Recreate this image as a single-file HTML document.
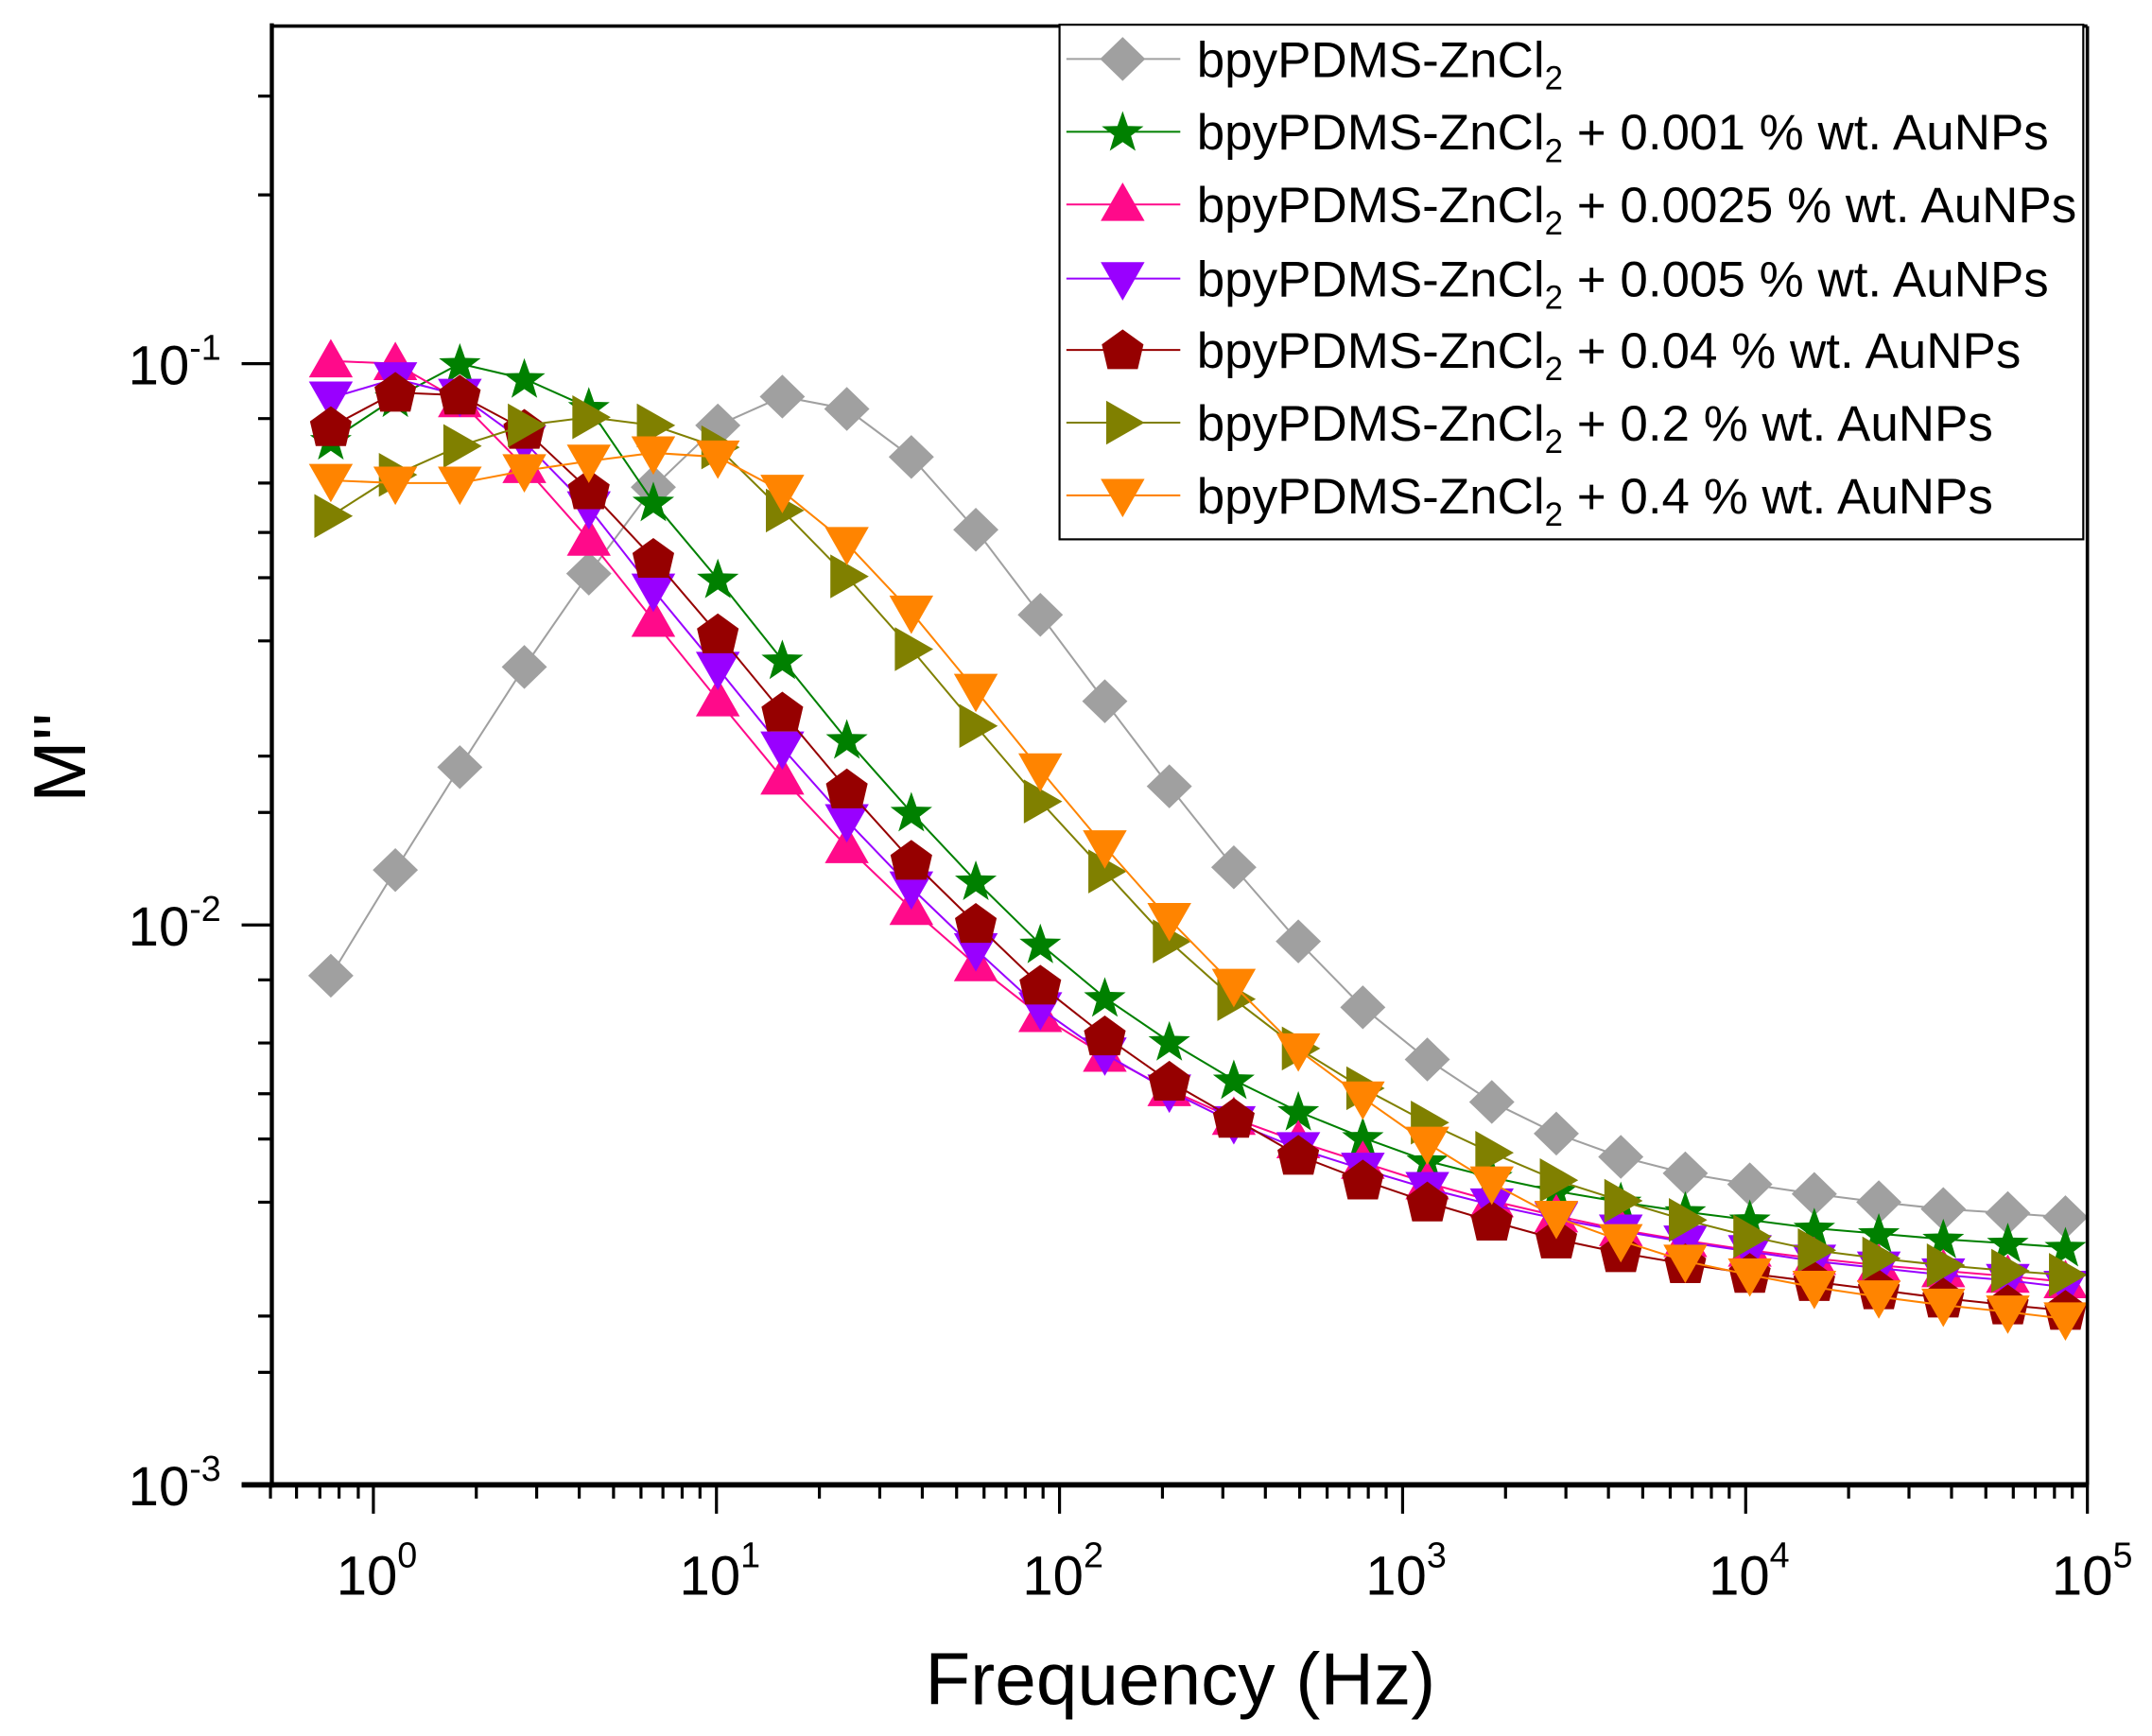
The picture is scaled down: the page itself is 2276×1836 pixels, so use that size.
<!DOCTYPE html>
<html><head><meta charset="utf-8"><style>html,body{margin:0;padding:0;background:#fff}svg{display:block}</style></head><body>
<svg width="2276" height="1836" viewBox="0 0 1568 1265" xmlns="http://www.w3.org/2000/svg" font-family="Liberation Sans, Arial, sans-serif">
<defs>
<marker id="mg" markerUnits="userSpaceOnUse" markerWidth="40" markerHeight="40" refX="20" refY="20" overflow="visible"><polygon transform="translate(20,20)" points="0,-16 16.5,0 0,16 -16.5,0" fill="#a0a0a0"/></marker>
<marker id="ms" markerUnits="userSpaceOnUse" markerWidth="40" markerHeight="40" refX="20" refY="20" overflow="visible"><polygon transform="translate(20,21)" points="0,-16 3.8,-5.2 15.2,-4.9 6.1,2 9.4,12.9 0,6.5 -9.4,12.9 -6.1,2 -15.2,-4.9 -3.8,-5.2" fill="#008000"/></marker>
<marker id="mu" markerUnits="userSpaceOnUse" markerWidth="40" markerHeight="40" refX="20" refY="20" overflow="visible"><polygon transform="translate(20,20)" points="0,-16 16,12 -16,12" fill="#ff0a8a"/></marker>
<marker id="md" markerUnits="userSpaceOnUse" markerWidth="40" markerHeight="40" refX="20" refY="20" overflow="visible"><polygon transform="translate(20,20)" points="-16,-12 16,-12 0,16" fill="#9900ff"/></marker>
<marker id="mp" markerUnits="userSpaceOnUse" markerWidth="40" markerHeight="40" refX="20" refY="20" overflow="visible"><polygon transform="translate(20,21)" points="0,-16 15.2,-5 11,13 -11,13 -15.2,-5" fill="#960000"/></marker>
<marker id="mr" markerUnits="userSpaceOnUse" markerWidth="40" markerHeight="40" refX="20" refY="20" overflow="visible"><polygon transform="translate(20,20)" points="-12,-16 16,0 -12,16" fill="#808000"/></marker>
<marker id="mo" markerUnits="userSpaceOnUse" markerWidth="40" markerHeight="40" refX="20" refY="20" overflow="visible"><polygon transform="translate(20,20)" points="-16,-12 16,-12 0,16" fill="#ff8400"/></marker>
</defs>

<g fill="none" stroke-width="1.4">
<polyline stroke="#a0a0a0" marker-start="url(#mg)" marker-mid="url(#mg)" marker-end="url(#mg)" points="241,711 288,634 335,559 382,486 429,418 476,355 523,310 570,289 617,298 664,333 711,386 758,448 805,511 852,573 899,632 946,686 993,734 1040,772 1087,803 1134,826 1181,843 1228,855 1275,863 1322,870 1369,876 1416,881 1463,884 1505,887"/>
<polyline stroke="#008000" marker-start="url(#ms)" marker-mid="url(#ms)" marker-end="url(#ms)" points="241,321 288,290 335,265 382,276 429,297 476,366 523,422 570,481 617,539 664,592 711,642 758,688 805,727 852,759 899,787 946,810 993,829 1040,846 1087,858 1134,868 1181,876 1228,883 1275,889 1322,895 1369,899 1416,903 1463,906 1505,909"/>
<polyline stroke="#ff0a8a" marker-start="url(#mu)" marker-mid="url(#mu)" marker-end="url(#mu)" points="241,263 288,265 335,292 382,340 429,393 476,452 523,510 570,567 617,617 664,662 711,703 758,740 805,769 852,794 899,815 946,832 993,847 1040,862 1087,875 1134,886 1181,896 1228,904 1275,911 1322,917 1369,922 1416,926 1463,930 1505,934"/>
<polyline stroke="#9900ff" marker-start="url(#md)" marker-mid="url(#md)" marker-end="url(#md)" points="241,290 288,276 335,288 382,322 429,370 476,430 523,487 570,545 617,598 664,647 711,692 758,735 805,768 852,795 899,818 946,837 993,852 1040,866 1087,878 1134,888 1181,897 1228,905 1275,912 1322,919 1369,924 1416,929 1463,933 1505,938"/>
<polyline stroke="#960000" marker-start="url(#mp)" marker-mid="url(#mp)" marker-end="url(#mp)" points="241,311 288,286 335,288 382,313 429,357 476,407 523,462 570,519 617,575 664,627 711,673 758,718 805,755 852,788 899,815 946,842 993,860 1040,876 1087,890 1134,903 1181,913 1228,921 1275,928 1322,934 1369,940 1416,946 1463,951 1505,955"/>
<polyline stroke="#808000" marker-start="url(#mr)" marker-mid="url(#mr)" marker-end="url(#mr)" points="241,376 288,346 335,325 382,310 429,304 476,310 523,326 570,372 617,420 664,473 711,529 758,584 805,635 852,686 899,728 946,764 993,793 1040,818 1087,840 1134,860 1181,875 1228,889 1275,901 1322,911 1369,917 1416,922 1463,926 1505,929"/>
<polyline stroke="#ff8400" marker-start="url(#mo)" marker-mid="url(#mo)" marker-end="url(#mo)" points="241,350 288,352 335,352 382,343 429,336 476,330 523,333 570,358 617,396 664,446 711,503 758,561 805,617 852,670 899,718 946,765 993,800 1040,833 1087,862 1134,887 1181,904 1228,919 1275,929 1322,938 1369,945 1416,951 1463,956 1505,961"/>
</g>

<rect x="0" y="0" width="1568" height="18" fill="#fff"/>
<line x1="198" y1="19" x2="1521" y2="19" stroke="#000" stroke-width="2.5"/>
<line x1="1521" y1="19" x2="1521" y2="1082" stroke="#000" stroke-width="2.5"/>
<line x1="198" y1="17" x2="198" y2="1084" stroke="#000" stroke-width="3"/>
<line x1="176" y1="1082" x2="1522" y2="1082" stroke="#000" stroke-width="4"/>

<g stroke="#000" stroke-width="2.2">
<path d="M272,1082v21M522,1082v21M772,1082v21M1022,1082v21M1272,1082v21M1521,1082v21"/>
<path d="M197,1082v10M216,1082v10M233,1082v10M247,1082v10M261,1082v10
M347,1082v10M391,1082v10M422,1082v10M447,1082v10M467,1082v10M483,1082v10M497,1082v10M510,1082v10
M597,1082v10M641,1082v10M672,1082v10M697,1082v10M717,1082v10M733,1082v10M747,1082v10M760,1082v10
M847,1082v10M891,1082v10M922,1082v10M947,1082v10M967,1082v10M983,1082v10M997,1082v10M1010,1082v10
M1097,1082v10M1141,1082v10M1172,1082v10M1197,1082v10M1217,1082v10M1233,1082v10M1247,1082v10M1260,1082v10
M1347,1082v10M1391,1082v10M1422,1082v10M1447,1082v10M1467,1082v10M1483,1082v10M1497,1082v10M1510,1082v10"/>
</g>
<g stroke="#000" stroke-width="2.2">
<path d="M176,265h22M176,674h22M176,1082h22"/>
<path d="M188,70h10M188,142h10
M188,305h10M188,352h10M188,388h10M188,421h10M188,467h10M188,551h10M188,592h10
M188,714h10M188,760h10M188,797h10M188,830h10M188,876h10M188,959h10M188,1000h10"/>
</g>

<g font-size="40" fill="#000" text-anchor="end">
<text x="161" y="280">10<tspan font-size="26" dy="-18">-1</tspan></text>
<text x="161" y="689">10<tspan font-size="26" dy="-18">-2</tspan></text>
<text x="161" y="1097">10<tspan font-size="26" dy="-18">-3</tspan></text>
</g>
<g font-size="40" fill="#000">
<text x="245" y="1162">10<tspan font-size="26" dy="-20">0</tspan></text>
<text x="495" y="1162">10<tspan font-size="26" dy="-20">1</tspan></text>
<text x="745" y="1162">10<tspan font-size="26" dy="-20">2</tspan></text>
<text x="995" y="1162">10<tspan font-size="26" dy="-20">3</tspan></text>
<text x="1245" y="1162">10<tspan font-size="26" dy="-20">4</tspan></text>
<text x="1495" y="1162">10<tspan font-size="26" dy="-20">5</tspan></text>
</g>
<text x="860" y="1242" font-size="54" text-anchor="middle">Frequency (Hz)</text>
<text transform="translate(62,552) rotate(-90)" font-size="54" text-anchor="middle">M''</text>

<rect x="772" y="18" width="746" height="375" fill="#fff" stroke="#000" stroke-width="1.5"/>
<g stroke-width="1.4">
<line x1="777" y1="43" x2="860" y2="43" stroke="#a0a0a0"/>
<line x1="777" y1="96" x2="860" y2="96" stroke="#008000"/>
<line x1="777" y1="149" x2="860" y2="149" stroke="#ff0a8a"/>
<line x1="777" y1="203" x2="860" y2="203" stroke="#9900ff"/>
<line x1="777" y1="255" x2="860" y2="255" stroke="#960000"/>
<line x1="777" y1="308" x2="860" y2="308" stroke="#808000"/>
<line x1="777" y1="361" x2="860" y2="361" stroke="#ff8400"/>
</g>
<polygon transform="translate(818,43)" points="0,-16 16.5,0 0,16 -16.5,0" fill="#a0a0a0"/>
<polygon transform="translate(818,97)" points="0,-16 3.8,-5.2 15.2,-4.9 6.1,2 9.4,12.9 0,6.5 -9.4,12.9 -6.1,2 -15.2,-4.9 -3.8,-5.2" fill="#008000"/>
<polygon transform="translate(818,149)" points="0,-16 16,12 -16,12" fill="#ff0a8a"/>
<polygon transform="translate(818,203)" points="-16,-12 16,-12 0,16" fill="#9900ff"/>
<polygon transform="translate(818,256)" points="0,-16 15.2,-5 11,13 -11,13 -15.2,-5" fill="#960000"/>
<polygon transform="translate(818,308)" points="-12,-16 16,0 -12,16" fill="#808000"/>
<polygon transform="translate(818,361)" points="-16,-12 16,-12 0,16" fill="#ff8400"/>
<g font-size="36.5" fill="#000">
<text x="872" y="56">bpyPDMS-ZnCl<tspan font-size="24" dy="9">2</tspan></text>
<text x="872" y="109">bpyPDMS-ZnCl<tspan font-size="24" dy="9">2</tspan><tspan dy="-9"> + 0.001 % wt. AuNPs</tspan></text>
<text x="872" y="162">bpyPDMS-ZnCl<tspan font-size="24" dy="9">2</tspan><tspan dy="-9"> + 0.0025 % wt. AuNPs</tspan></text>
<text x="872" y="216">bpyPDMS-ZnCl<tspan font-size="24" dy="9">2</tspan><tspan dy="-9"> + 0.005 % wt. AuNPs</tspan></text>
<text x="872" y="268">bpyPDMS-ZnCl<tspan font-size="24" dy="9">2</tspan><tspan dy="-9"> + 0.04 % wt. AuNPs</tspan></text>
<text x="872" y="321">bpyPDMS-ZnCl<tspan font-size="24" dy="9">2</tspan><tspan dy="-9"> + 0.2 % wt. AuNPs</tspan></text>
<text x="872" y="374">bpyPDMS-ZnCl<tspan font-size="24" dy="9">2</tspan><tspan dy="-9"> + 0.4 % wt. AuNPs</tspan></text>
</g>
</svg>
</body></html>
